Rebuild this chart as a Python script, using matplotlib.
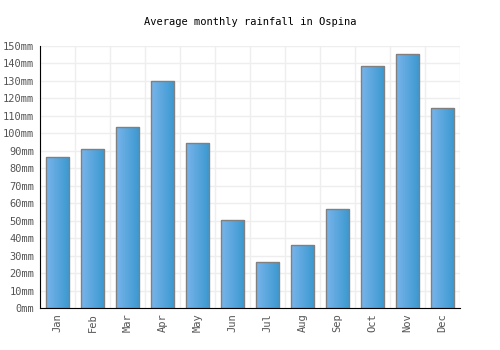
import numpy as np
import matplotlib
matplotlib.use("Agg")
import matplotlib.pyplot as plt
from matplotlib.colors import LinearSegmentedColormap

# data
months = ["Jan", "Feb", "Mar", "Apr", "May", "Jun",
          "Jul", "Aug", "Sep", "Oct", "Nov", "Dec"]
rainfall = [86.4, 91, 103.6, 130, 94.4, 50.4, 26.3, 36, 56.7, 138.5, 145.4, 114.5]
yticks = list(range(0, 151, 10))

plt.rcParams['font.family'] = ['DejaVu Sans Mono']

fig = plt.figure(figsize=(5, 3.5), dpi=100)
ax = fig.add_axes([0.08, 0.12, 0.84, 0.7486])

x = np.arange(len(months))
bars = ax.bar(x, rainfall, width=0.67, color='none', edgecolor='#808080',
              linewidth=1, zorder=3)

# horizontal gradient in each bar
cmap = LinearSegmentedColormap.from_list('rain', ['#78b4ea', '#3a98d0'])
grad = np.linspace(0, 1, 64).reshape(1, -1)
for b in bars:
    x0, w, h = b.get_x(), b.get_width(), b.get_height()
    im = ax.imshow(grad, cmap=cmap, aspect='auto', extent=(x0, x0 + w, 0, h),
                   zorder=2, interpolation='bilinear')
    im.set_clip_path(b)

ax.set_xlim(-0.5, len(months) - 0.5)
ax.set_ylim(0, 150)
ax.set_xticks(x)
ax.set_xticklabels(months, rotation=90, fontsize=7.5, color='#555555')
ax.set_yticks(yticks)
ax.set_yticklabels([f"{v}mm" for v in yticks], fontsize=7.5, color='#555555')

# grid lines between categories
ax.set_xticks(np.arange(len(months) + 1) - 0.5, minor=True)
ax.grid(True, which='minor', axis='x', color='#eeeeee', linewidth=1, zorder=0)
ax.grid(True, which='major', axis='y', color='#eeeeee', linewidth=1, zorder=0)
ax.tick_params(which='both', length=0, pad=4)

for s in ['top', 'right']:
    ax.spines[s].set_visible(False)
ax.spines['left'].set_color('black')
ax.spines['bottom'].set_color('black')
ax.spines['left'].set_zorder(4)
ax.spines['bottom'].set_zorder(4)

fig.text(0.5, 0.937, "Average monthly rainfall in Ospina", ha='center',
         va='center', fontsize=7.5, color='black')

fig.savefig("out.png", dpi=100)
